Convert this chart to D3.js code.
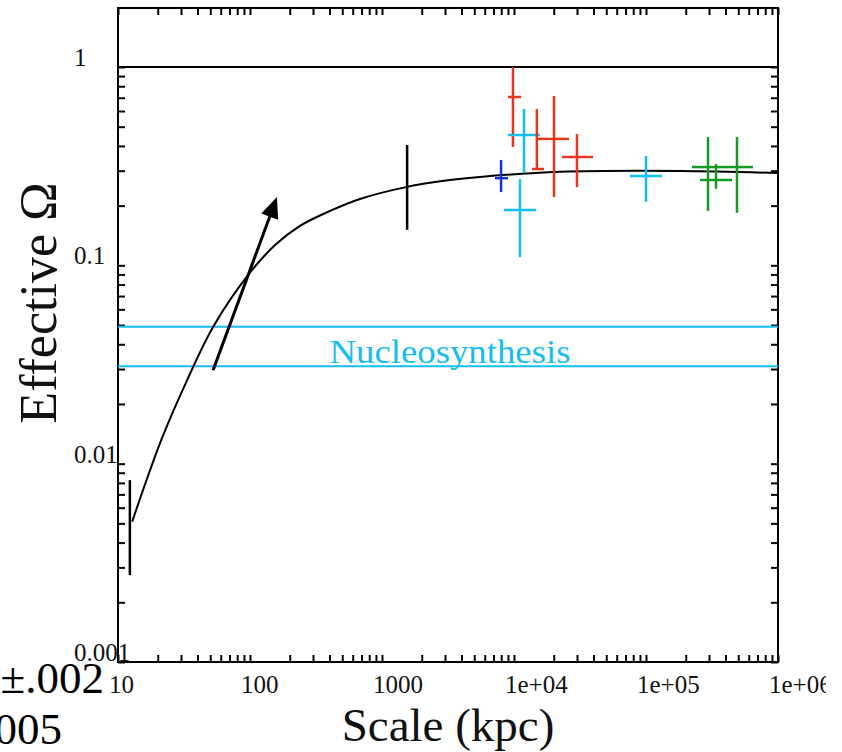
<!DOCTYPE html>
<html lang="en">
<head>
<meta charset="UTF-8" />
<title>Effective Omega vs Scale</title>
<script src="https://d3js.org/d3.v7.min.js"></script>
<style>
  body { margin: 0; background: #fff; }
  svg { display: block; font-family: "Liberation Serif", "Times New Roman", serif; }
  .tick-label { font-size: 25px; fill: #111; }
  .axis-title { font-size: 47px; fill: #111; }
</style>
</head>
<body>
<svg id="chart" width="842" height="752"></svg>
<script>
  // Axis ranges and labels
  const xDomain = [10, 1e6];
  const yDomain = [0.001, 2];
  const xTickValues = [10, 100, 1000, 1e4, 1e5, 1e6];
  const xTickLabels = ["10", "100", "1000", "1e+04", "1e+05", "1e+06"];
  const yTickValues = [0.001, 0.01, 0.1, 1];
  const yTickLabels = ["0.001", "0.01", "0.1", "1"];

  // Model curve
  const curveX = [12.8, 21.5, 33.4, 52.5, 96.6, 155, 239, 404, 681, 1520, 3270, 5520, 22300, 181000, 1e6];
  const curveY = [0.0051, 0.0134, 0.0264, 0.0489, 0.0893, 0.1265, 0.158, 0.188, 0.216, 0.248, 0.269, 0.279, 0.296, 0.299, 0.292];

  // Measurements with error bars
  const pointSeries = ["black", "black", "red", "cyan", "red", "red", "red", "blue", "cyan", "cyan", "green", "green", "green"];
  const pointX    = [12.3, 1550, 9820, 11900, 14900, 20100, 30000, 7980, 11100, 1e5, 295000, 339000, 489000];
  const pointXLo  = [null, null, 9010, 9010, 13700, 15200, 23100, 7180, 8400, 75600, 223000, 256000, 383000];
  const pointXHi  = [null, null, 11300, 15700, 16900, 26100, 39700, 9010, 14700, 132000, 383000, 448000, 647000];
  const pointY    = [0.0048, 0.248, 0.706, 0.454, 0.306, 0.434, 0.352, 0.275, 0.190, 0.282, 0.313, 0.269, 0.313];
  const pointYLo  = [0.00274, 0.151, 0.395, 0.292, 0.306, 0.221, 0.248, 0.234, 0.110, 0.209, 0.188, 0.243, 0.184];
  const pointYHi  = [0.00826, 0.404, 1.0, 0.614, 0.614, 0.714, 0.459, 0.340, 0.272, 0.356, 0.444, 0.324, 0.444];

  // Reference levels
  const unityLevel = 1;
  const nucleoBand = [0.031, 0.049];
  const nucleoLabel = "Nucleosynthesis";

  // Arrow (start, tip)
  const arrowFrom = [52.5, 0.0296];
  const arrowTo = [160, 0.221];

  const colors = { black: "#000", red: "#e8361d", cyan: "#16bdf0", blue: "#1733d4", green: "#179a24" };

  const svg = d3.select("#chart");
  const plotLeft = 118, plotRight = 778, plotTop = 7.3, plotBottom = 662;

  // the source figure ends a little before the page edge
  svg.append("clipPath").attr("id", "figclip")
    .append("rect").attr("x", 0).attr("y", 0).attr("width", 826).attr("height", 752);
  const fig = svg.append("g").attr("clip-path", "url(#figclip)");

  const x = d3.scaleLog().domain(xDomain).range([plotLeft, plotRight]);
  const y = d3.scaleLog().domain(yDomain).range([plotBottom, plotTop]);

  // frame
  fig.append("rect")
    .attr("x", plotLeft).attr("y", 8)
    .attr("width", plotRight - plotLeft).attr("height", plotBottom - 8)
    .attr("fill", "none").attr("stroke", "#000").attr("stroke-width", 2);

  // inward ticks on all four sides
  const tickLen = -7;
  function ticksOnly(g) {
    g.select(".domain").remove();
    g.selectAll("line").attr("stroke", "#000").attr("stroke-width", 2);
  }
  fig.append("g").attr("transform", `translate(0,${plotBottom})`)
    .call(d3.axisBottom(x).tickValues(x.ticks()).tickSize(tickLen).tickFormat(""))
    .call(ticksOnly);
  fig.append("g").attr("transform", `translate(0,8)`)
    .call(d3.axisTop(x).tickValues(x.ticks()).tickSize(tickLen).tickFormat(""))
    .call(ticksOnly);
  fig.append("g").attr("transform", `translate(${plotLeft},0)`)
    .call(d3.axisLeft(y).tickValues(y.ticks().filter(v => v <= 1)).tickSize(tickLen).tickFormat(""))
    .call(ticksOnly);
  fig.append("g").attr("transform", `translate(${plotRight},0)`)
    .call(d3.axisRight(y).tickValues(y.ticks().filter(v => v <= 1)).tickSize(tickLen).tickFormat(""))
    .call(ticksOnly);

  // tick labels
  fig.selectAll(".xlab").data(xTickValues).enter().append("text")
    .attr("class", "tick-label")
    .attr("x", d => x(d) - 9).attr("y", 693)
    .text((d, i) => xTickLabels[i]);
  fig.selectAll(".ylab").data(yTickValues).enter().append("text")
    .attr("class", "tick-label")
    .attr("x", 74).attr("y", d => y(d) - 1)
    .text((d, i) => yTickLabels[i]);

  // Omega = 1 line
  fig.append("line")
    .attr("x1", plotLeft).attr("x2", plotRight)
    .attr("y1", y(unityLevel)).attr("y2", y(unityLevel))
    .attr("stroke", "#000").attr("stroke-width", 2);

  // nucleosynthesis band
  fig.selectAll(".nuc").data(nucleoBand).enter().append("line")
    .attr("x1", plotLeft).attr("x2", plotRight)
    .attr("y1", d => y(d)).attr("y2", d => y(d))
    .attr("stroke", colors.cyan).attr("stroke-width", 2);
  fig.append("text")
    .attr("x", 450).attr("y", y(nucleoBand[0]) - 3)
    .attr("text-anchor", "middle")
    .attr("font-size", 34)
    .attr("textLength", 241).attr("lengthAdjust", "spacingAndGlyphs")
    .attr("fill", colors.cyan)
    .text(nucleoLabel);

  // model curve
  const curve = d3.line()
    .x(d => x(d[0])).y(d => y(d[1]))
    .curve(d3.curveCatmullRom.alpha(0.5));
  fig.append("path")
    .datum(curveX.map((v, i) => [v, curveY[i]]))
    .attr("d", curve)
    .attr("fill", "none").attr("stroke", "#000").attr("stroke-width", 2);

  // arrow
  const ax0 = x(arrowFrom[0]), ay0 = y(arrowFrom[1]);
  const ax1 = x(arrowTo[0]), ay1 = y(arrowTo[1]);
  const ang = Math.atan2(ay1 - ay0, ax1 - ax0);
  const headLen = 21, headHalf = 9;
  fig.append("line")
    .attr("x1", ax0).attr("y1", ay0)
    .attr("x2", ax1 - (headLen - 4) * Math.cos(ang))
    .attr("y2", ay1 - (headLen - 4) * Math.sin(ang))
    .attr("stroke", "#000").attr("stroke-width", 3);
  const bx = ax1 - headLen * Math.cos(ang), by = ay1 - headLen * Math.sin(ang);
  fig.append("path")
    .attr("d", `M${ax1},${ay1}L${bx + headHalf * Math.sin(ang)},${by - headHalf * Math.cos(ang)}` +
      `L${bx - headHalf * Math.sin(ang)},${by + headHalf * Math.cos(ang)}Z`)
    .attr("fill", "#000");

  // error bars
  const pts = pointX.map((v, i) => ({
    s: pointSeries[i], x: v, y: pointY[i],
    xlo: pointXLo[i], xhi: pointXHi[i], ylo: pointYLo[i], yhi: pointYHi[i]
  }));
  const bars = fig.append("g");
  pts.forEach(p => {
    const c = colors[p.s];
    bars.append("line")
      .attr("x1", x(p.x)).attr("x2", x(p.x))
      .attr("y1", y(p.ylo)).attr("y2", y(p.yhi))
      .attr("stroke", c).attr("stroke-width", 2.5);
    if (p.xlo != null) {
      bars.append("line")
        .attr("x1", x(p.xlo)).attr("x2", x(p.xhi))
        .attr("y1", y(p.y)).attr("y2", y(p.y))
        .attr("stroke", c).attr("stroke-width", 2.5);
    }
  });

  // axis titles
  fig.append("text")
    .attr("class", "axis-title")
    .attr("x", 448).attr("y", 741)
    .attr("text-anchor", "middle")
    .text("Scale (kpc)");
  fig.append("text")
    .attr("class", "axis-title")
    .attr("transform", "translate(56,303) rotate(-90)")
    .attr("text-anchor", "middle")
    .style("font-size", "52px")
    .text("Effective Ω");

  // leftover text from the slide
  fig.append("text")
    .attr("x", 104).attr("y", 693)
    .attr("text-anchor", "end")
    .attr("font-size", 45)
    .text("±.002");
  fig.append("text")
    .attr("x", 62).attr("y", 744)
    .attr("text-anchor", "end")
    .attr("font-size", 45)
    .text("005");
</script>
</body>
</html>
